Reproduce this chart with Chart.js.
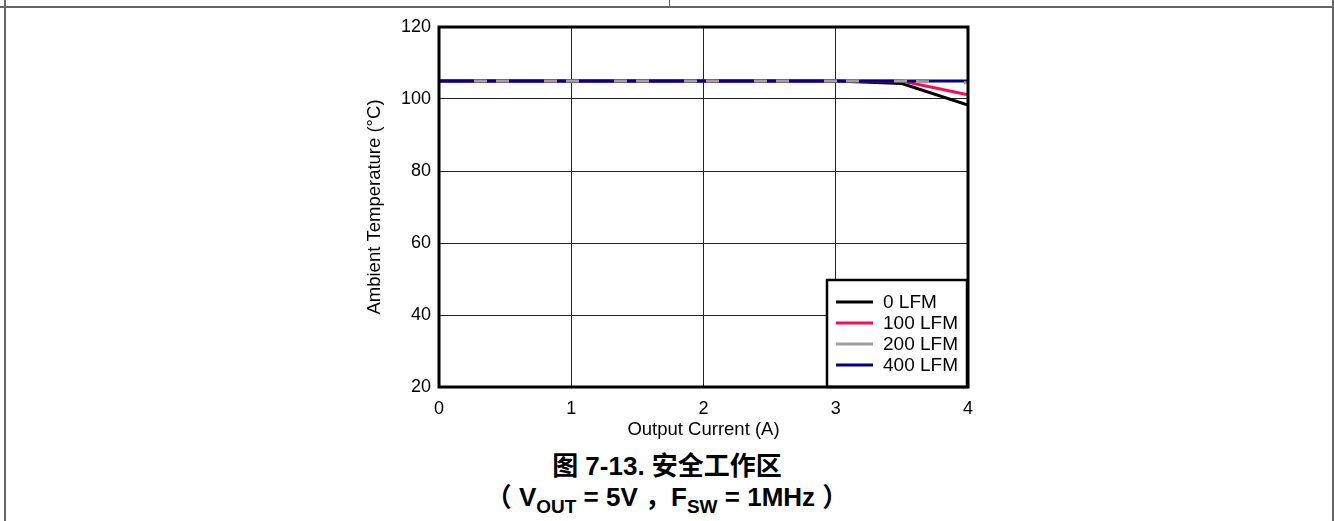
<!DOCTYPE html>
<html><head><meta charset="utf-8">
<script src="https://cdn.jsdelivr.net/npm/chart.js@4/dist/chart.umd.min.js"></script>
<style>
html,body{margin:0;padding:0;background:#fff;width:1334px;height:521px;overflow:hidden;position:relative;font-family:"Liberation Sans",Arial,sans-serif;}
#wrap{position:absolute;left:0;top:0;width:1334px;height:450px;}
.ln{position:absolute;background:#666;}
#cap1,#cap2{position:absolute;left:0;width:1334px;text-align:center;font-weight:bold;font-size:26px;color:#000;font-family:"Liberation Sans","Noto Sans CJK SC",sans-serif;line-height:30px;}
#cap1{top:451px;}
#cap2{top:482px;}
sub{font-size:19px;vertical-align:-7px;line-height:0;}
</style></head>
<body>
<div class="ln" style="left:0;top:6px;width:1334px;height:2px;"></div>
<div class="ln" style="left:669px;top:0;width:1px;height:7px;"></div>
<div class="ln" style="left:4px;top:0;width:2px;height:521px;"></div>
<div class="ln" style="left:1332px;top:0;width:2px;height:521px;"></div>
<div id="wrap"><canvas id="c" width="1334" height="450"></canvas></div>
<div id="cap1">图 7-13. 安全工作区</div>
<div id="cap2">（ V<sub>OUT</sub> = 5V ，F<sub>SW</sub> = 1MHz ）</div>
<script>
const seriesNames = ["0 LFM", "100 LFM", "200 LFM", "400 LFM"];
const seriesColors = ["#000000", "#ff0a50", "#a0a0a0", "#00008b"];
const lfm0 = [{x:0,y:105},{x:3,y:105},{x:3.5,y:104.3},{x:4,y:98.3}];
const lfm100 = [{x:0,y:105},{x:3.5,y:105},{x:4,y:101.2}];
const lfm200 = [{x:0,y:105},{x:3.5,y:105},{x:4,y:104.5}];
const lfm400 = [{x:0,y:105},{x:4,y:105}];
const xTicks = [0,1,2,3,4];
const yTicks = [20,40,60,80,100,120];
const allData = [lfm0, lfm100, lfm200, lfm400];
const FONT = '"Liberation Sans", Arial, sans-serif';

const boxPlugin = {
  id:'box',
  afterDatasetsDraw(chart){
    const {ctx, chartArea:a} = chart;
    ctx.save();
    const lx=827, ly=280, lw=140, lh=107;
    ctx.fillStyle='#fff';
    ctx.fillRect(lx,ly,lw,lh);
    ctx.strokeStyle='#000'; ctx.lineWidth=2.5;
    ctx.strokeRect(lx,ly,lw,lh);
    ctx.font='19px ' + FONT;
    ctx.textBaseline='middle'; ctx.textAlign='left';
    chart.data.datasets.forEach((ds,i)=>{
      const y = 302 + i*21;
      ctx.strokeStyle = ds.borderColor; ctx.lineWidth=3; ctx.setLineDash([]);
      ctx.beginPath(); ctx.moveTo(836,y); ctx.lineTo(873,y); ctx.stroke();
      ctx.fillStyle='#000';
      ctx.fillText(ds.label, 883, y+1);
    });
    ctx.strokeStyle='#000'; ctx.lineWidth=3;
    ctx.strokeRect(a.left, a.top, a.right-a.left, a.bottom-a.top);
    ctx.restore();
  }
};

new Chart(document.getElementById('c'), {
  type:'line',
  data:{ datasets: allData.map((d,i)=>({
    label: seriesNames[i], data: d, borderColor: seriesColors[i], backgroundColor: seriesColors[i],
    borderWidth: 3, pointRadius: 0, tension: 0, fill:false,
    order: [4,3,1,2][i],
    borderDash: i===2 ? [13,9,13,35] : [],
    borderDashOffset: i===2 ? 35 : 0
  }))},
  options:{
    responsive:false, animation:false, devicePixelRatio:1,
    layout:{padding:{left:364, right:366, top:27, bottom:9}},
    plugins:{legend:{display:false}, tooltip:{enabled:false}},
    scales:{
      x:{type:'linear', min:0, max:4,
        afterBuildTicks(s){ s.ticks = xTicks.map(v=>({value:v})); },
        afterFit(s){ s.height = 54; },
        grid:{color:'#222', lineWidth:1, drawTicks:false},
        border:{display:false},
        ticks:{padding:11, color:'#000', font:{size:18, family:FONT}},
        title:{display:true, text:'Output Current (A)', color:'#000', padding:{top:0,bottom:0}, font:{size:18.5, family:FONT}}
      },
      y:{type:'linear', min:20, max:120,
        afterBuildTicks(s){ s.ticks = yTicks.map(v=>({value:v})); },
        afterFit(s){ s.width = 75; },
        grid:{color:'#222', lineWidth:1, drawTicks:false},
        border:{display:false},
        ticks:{padding:8, color:'#000', font:{size:18, family:FONT}},
        title:{display:true, text:'Ambient Temperature (°C)', color:'#000', padding:{top:0,bottom:0}, font:{size:18.5, family:FONT}}
      }
    }
  },
  plugins:[boxPlugin]
});
</script>
</body></html>
